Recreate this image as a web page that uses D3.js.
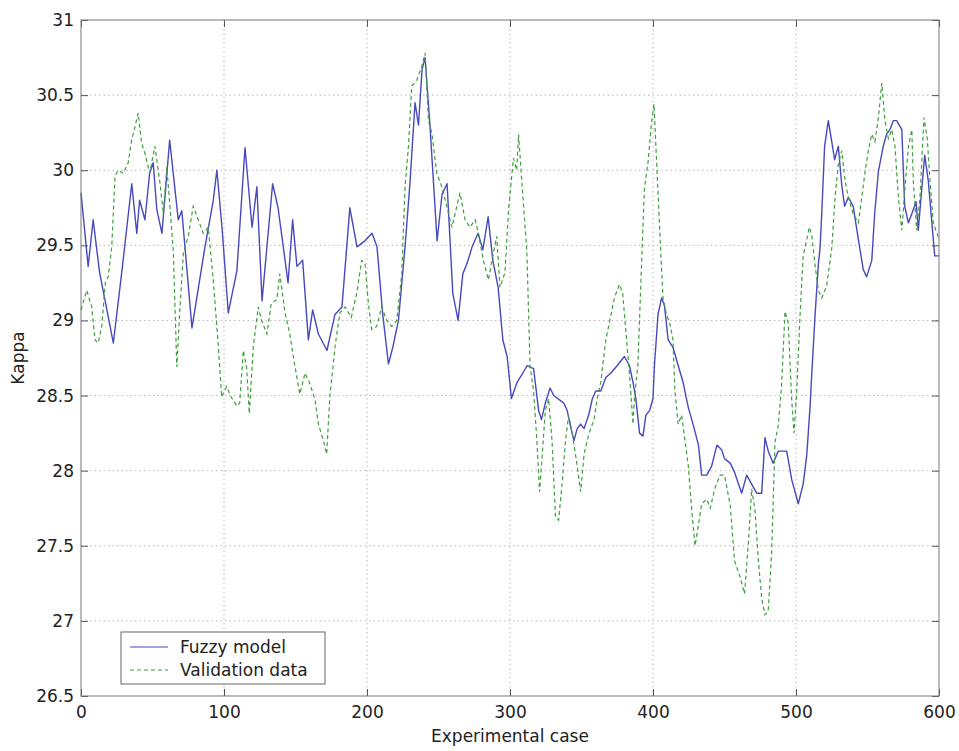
<!DOCTYPE html>
<html>
<head>
<meta charset="utf-8">
<script src="https://cdn.jsdelivr.net/npm/d3@7"></script>
<style>
  body { margin: 0; background: #fff; }
  text { font-family: "DejaVu Sans", sans-serif; fill: #222; }
</style>
</head>
<body>
<div class="svg_container"></div>
<script>
// Fuzzy model output (case number, kappa)
var fuzzyX = [0, 5, 8.5, 13, 22.6, 28.5, 35.5, 39, 41, 44.7, 48, 50.5, 53, 56.6, 62, 68, 70.5, 77.6, 86.7, 92.5,
  95, 98.6, 103, 109, 114.7, 119.6, 123, 126.6, 134, 137.8, 144.8, 148, 151, 155, 159, 162, 166, 172, 177.6, 182.5,
  188, 193, 198.6, 203.5, 207, 211, 215, 218, 222, 226.6, 230, 233.6, 236, 238.5, 240.6, 244, 247.6, 249, 252.5, 256,
  260, 263.7, 267, 270, 273.5, 277.7, 281, 284.7, 288, 291.7, 295, 298, 301, 305, 309, 312, 316.5, 318, 320, 322,
  324.7, 328, 330.6, 337.6, 340, 342, 344.7, 347, 349.4, 351.8, 355, 357.6, 360, 363.5, 367, 370.6, 375, 380, 383.5, 386,
  388, 390.6, 393, 395, 397.6, 400, 401, 403.5, 406, 408, 410.6, 414, 417.6, 421, 424.7, 428, 431.8, 434, 437.6, 441,
  444.7, 448, 450, 454, 457, 462, 465.5, 469, 472.5, 476, 478.3, 480.6, 484, 487.6, 493.5, 497, 501.6, 505, 507.5, 509.8,
  511, 513.3, 515.6, 516.8, 518, 520, 522.6, 525, 527, 529.6, 532, 534, 536.6, 540, 543.6, 547, 549.4, 553, 555, 557.6,
  561, 563.4, 565.7, 568, 570.4, 574, 576, 578.6, 581, 584, 585.5, 588, 590, 592.5, 595, 597, 600];
var fuzzyKappa = [29.85, 29.36, 29.67, 29.32, 28.85, 29.32, 29.91, 29.58, 29.8, 29.67, 29.98, 30.05, 29.74, 29.58, 30.2, 29.67, 29.73, 28.95, 29.49, 29.8,
  30.0, 29.62, 29.05, 29.33, 30.15, 29.62, 29.89, 29.13, 29.91, 29.75, 29.25, 29.67, 29.36, 29.4, 28.87, 29.07, 28.91, 28.8, 29.04, 29.09,
  29.75, 29.49, 29.53, 29.58, 29.49, 29.04, 28.71, 28.82, 29.0, 29.49, 29.91, 30.45, 30.3, 30.67, 30.75, 30.3, 29.75, 29.53, 29.84, 29.91,
  29.18, 29.0, 29.31, 29.38, 29.49, 29.58, 29.47, 29.69, 29.4, 29.22, 28.87, 28.76, 28.48, 28.59, 28.65, 28.7, 28.68, 28.56, 28.4, 28.34,
  28.45, 28.55, 28.5, 28.45, 28.4, 28.31, 28.2, 28.28, 28.31, 28.28, 28.37, 28.48, 28.53, 28.53, 28.62, 28.65, 28.7, 28.76, 28.7, 28.59,
  28.48, 28.25, 28.23, 28.37, 28.4, 28.48, 28.7, 29.04, 29.15, 29.1, 28.87, 28.82, 28.7, 28.59, 28.42, 28.31, 28.17, 27.97, 27.97, 28.03,
  28.17, 28.14, 28.08, 28.05, 27.99, 27.85, 27.97, 27.91, 27.85, 27.85, 28.22, 28.13, 28.05, 28.13, 28.13, 27.94, 27.78, 27.91, 28.1, 28.42,
  28.64, 29.03, 29.37, 29.48, 29.71, 30.16, 30.33, 30.19, 30.07, 30.16, 29.9, 29.76, 29.82, 29.76, 29.54, 29.34, 29.29, 29.4, 29.71, 29.99,
  30.16, 30.24, 30.27, 30.33, 30.33, 30.27, 29.76, 29.65, 29.71, 29.79, 29.6, 29.88, 30.1, 29.93, 29.65, 29.43, 29.43];

// Validation data (case number, kappa)
var validX = [0, 4, 7.5, 9.8, 12, 14.5, 17, 19, 21.5, 23.8, 26, 29.6, 33, 35.4, 37.8, 40, 42.4, 44.8, 48, 51.7,
  55.3, 57.6, 60, 62.2, 64.6, 67, 69, 71.6, 75, 78.5, 82, 85.5, 89, 92.5, 96, 98.4, 101.8, 105, 109, 111,
  113.5, 115.8, 117.7, 120.5, 124, 126.3, 130, 133, 137, 139, 142.7, 146, 149.7, 153, 156.7, 160, 163.7, 166, 169.5, 171.8,
  174, 177.7, 181, 184.7, 189, 192.8, 196.3, 198.6, 201, 203.3, 206.8, 210.3, 213.8, 217.3, 220.8, 224.3, 226.6, 229, 231.3, 234.8,
  238.3, 240.6, 243, 245.3, 248.8, 252.3, 255.8, 259.3, 261.6, 265, 268.6, 272, 275.6, 277.9, 281.4, 284.9, 288.4, 290.7, 293, 296.5,
  299, 302.4, 304.7, 306, 308, 311.8, 314, 316.5, 318.8, 320.7, 322, 324.7, 327, 329.4, 331.8, 334, 336.5, 338.8, 341, 343.5,
  347, 349.4, 351.8, 355.3, 358.8, 361, 363.5, 367, 369.4, 373, 376.5, 378.8, 381, 383.5, 386, 387, 389.4, 391.8, 394, 396.5,
  398.8, 400.7, 402.4, 404.7, 407, 409.4, 411.8, 414, 415.3, 417.6, 420, 422.4, 424.7, 427, 429.4, 431.8, 434, 437.6, 440, 443.5,
  447, 450, 454, 457, 461, 464, 466.7, 469, 471.3, 473.7, 476, 478.3, 480.6, 483, 485.3, 487.6, 490, 492.3, 494.6, 497,
  498.6, 500.5, 502.8, 505, 507.5, 509.3, 511, 513.3, 515.6, 518, 521.4, 525, 527.3, 529.6, 532, 534.3, 536.6, 540, 543.6, 546,
  548.3, 550.6, 553, 555.2, 557.6, 560, 562.2, 564.6, 567, 569.2, 571.6, 574, 576.2, 578.6, 581, 582, 584.4, 586.7, 589.5, 591.8,
  593.7, 596, 600];
var validKappa = [29.07, 29.2, 29.09, 28.87, 28.85, 28.96, 29.25, 29.29, 29.49, 29.96, 30.0, 29.98, 30.05, 30.2, 30.29, 30.38, 30.18, 30.11, 29.98, 30.16,
  29.91, 29.71, 30.02, 29.76, 29.45, 28.69, 29.05, 29.45, 29.56, 29.76, 29.67, 29.58, 29.62, 29.27, 28.83, 28.49, 28.56, 28.49, 28.43, 28.45,
  28.8, 28.69, 28.38, 28.83, 29.09, 29.0, 28.91, 29.11, 29.14, 29.31, 29.05, 28.91, 28.69, 28.51, 28.65, 28.58, 28.47, 28.31, 28.2, 28.11,
  28.49, 28.83, 29.05, 29.09, 29.02, 29.18, 29.4, 29.38, 29.11, 28.94, 28.96, 29.09, 29.0, 28.96, 29.0, 29.31, 29.89, 30.16, 30.56, 30.6,
  30.69, 30.78, 30.33, 30.25, 29.98, 29.89, 29.76, 29.62, 29.71, 29.85, 29.67, 29.62, 29.67, 29.58, 29.4, 29.27, 29.45, 29.56, 29.22, 29.32,
  29.74, 30.08, 30.0, 30.24, 29.96, 29.46, 28.7, 28.53, 28.2, 27.86, 28.03, 28.4, 28.48, 28.2, 27.69, 27.67, 27.92, 28.2, 28.37, 28.25,
  28.03, 27.86, 28.11, 28.25, 28.34, 28.48, 28.59, 28.87, 28.98, 29.15, 29.24, 29.18, 28.93, 28.65, 28.31, 28.48, 28.7, 29.32, 29.88, 30.05,
  30.3, 30.44, 30.08, 29.6, 29.15, 29.04, 28.98, 28.87, 28.53, 28.31, 28.37, 28.2, 28.03, 27.75, 27.5, 27.64, 27.78, 27.81, 27.75, 27.89,
  27.97, 27.97, 27.77, 27.4, 27.29, 27.18, 27.52, 27.88, 27.74, 27.4, 27.15, 27.04, 27.07, 27.46, 28.19, 28.3, 28.58, 29.06, 28.98, 28.47,
  28.25, 28.53, 29.03, 29.43, 29.54, 29.62, 29.57, 29.37, 29.2, 29.15, 29.23, 29.48, 29.82, 30.04, 30.13, 29.93, 29.82, 29.71, 29.65, 29.82,
  29.99, 30.13, 30.24, 30.19, 30.35, 30.58, 30.33, 30.21, 30.27, 30.16, 29.82, 29.6, 29.88, 30.16, 30.27, 29.93, 29.6, 29.82, 30.35, 30.21,
  29.93, 29.65, 29.54];

var xTicks = [0, 100, 200, 300, 400, 500, 600];
var yTicks = [26.5, 27, 27.5, 28, 28.5, 29, 29.5, 30, 30.5, 31];
var seriesNames = ["Fuzzy model", "Validation data"];

// set the dimensions and margins of the graph
var margin = { top: 20, right: 20, bottom: 55, left: 81 },
  width = 959 - margin.left - margin.right,
  height = 751 - margin.top - margin.bottom;

// set the ranges
var x = d3.scaleLinear().domain([0, 600]).range([0, width]);
var y = d3.scaleLinear().domain([26.5, 31]).range([height, 0]);

var svg = d3.select(".svg_container").append("svg")
  .attr("width", width + margin.left + margin.right)
  .attr("height", height + margin.top + margin.bottom)
  .append("g")
  .attr("transform", "translate(" + margin.left + "," + margin.top + ")");

// dotted grid
svg.append("g").selectAll("line")
  .data(xTicks.slice(1, -1))
  .enter().append("line")
  .attr("x1", function(d) { return x(d); })
  .attr("x2", function(d) { return x(d); })
  .attr("y1", 0).attr("y2", height)
  .attr("stroke", "#b8b8b8").attr("stroke-dasharray", "1.5,3");
svg.append("g").selectAll("line")
  .data(yTicks.slice(1, -1))
  .enter().append("line")
  .attr("y1", function(d) { return y(d); })
  .attr("y2", function(d) { return y(d); })
  .attr("x1", 0).attr("x2", width)
  .attr("stroke", "#b8b8b8").attr("stroke-dasharray", "1.5,3");

// the two series
var line = d3.line()
  .x(function(d) { return x(d[0]); })
  .y(function(d) { return y(d[1]); });

svg.append("path")
  .datum(d3.zip(fuzzyX, fuzzyKappa))
  .attr("fill", "none")
  .attr("stroke", "#4848c0")
  .attr("stroke-width", 1.4)
  .attr("stroke-linejoin", "round")
  .attr("d", line);

svg.append("path")
  .datum(d3.zip(validX, validKappa))
  .attr("fill", "none")
  .attr("stroke", "#3f9f3f")
  .attr("stroke-width", 1.2)
  .attr("stroke-dasharray", "4,3")
  .attr("d", line);

// axes, ticks pointing inwards on all four sides
function style(g) {
  g.select(".domain").remove();
  g.selectAll(".tick line").attr("stroke", "#555");
  g.selectAll("text").attr("font-size", 17).attr("font-family", "DejaVu Sans").attr("fill", "#222");
}

svg.append("g")
  .attr("transform", "translate(0," + height + ")")
  .call(d3.axisBottom(x).tickValues(xTicks).tickSize(-7).tickPadding(10))
  .call(style);
svg.append("g")
  .call(d3.axisTop(x).tickValues(xTicks).tickSize(-7).tickFormat(""))
  .call(style);
svg.append("g")
  .call(d3.axisLeft(y).tickValues(yTicks).tickSize(-7).tickPadding(7).tickFormat(d3.format("")))
  .call(style);
svg.append("g")
  .attr("transform", "translate(" + width + ",0)")
  .call(d3.axisRight(y).tickValues(yTicks).tickSize(-7).tickFormat(""))
  .call(style);

// frame
svg.append("rect")
  .attr("width", width).attr("height", height)
  .attr("fill", "none").attr("stroke", "#777");

// axis labels
svg.append("text")
  .attr("x", width / 2).attr("y", height + 46)
  .attr("text-anchor", "middle").attr("font-size", 17)
  .text("Experimental case");
svg.append("text")
  .attr("transform", "translate(" + (-57) + "," + (height / 2) + ") rotate(-90)")
  .attr("text-anchor", "middle").attr("font-size", 17)
  .text("Kappa");

// legend
var legend = svg.append("g").attr("transform", "translate(" + 40 + "," + 612 + ")");
legend.append("rect")
  .attr("width", 204).attr("height", 52)
  .attr("fill", "#fff").attr("stroke", "#666");
var styles = [{ c: "#4848c0", d: null }, { c: "#3f9f3f", d: "4,3" }];
seriesNames.forEach(function(name, i) {
  legend.append("line")
    .attr("x1", 9).attr("x2", 47)
    .attr("y1", 15 + i * 23).attr("y2", 15 + i * 23)
    .attr("stroke", styles[i].c).attr("stroke-width", 1.2)
    .attr("stroke-dasharray", styles[i].d);
  legend.append("text")
    .attr("x", 59).attr("y", 15 + i * 23).attr("dy", "0.35em")
    .attr("font-size", 17)
    .text(name);
});
</script>
</body>
</html>
